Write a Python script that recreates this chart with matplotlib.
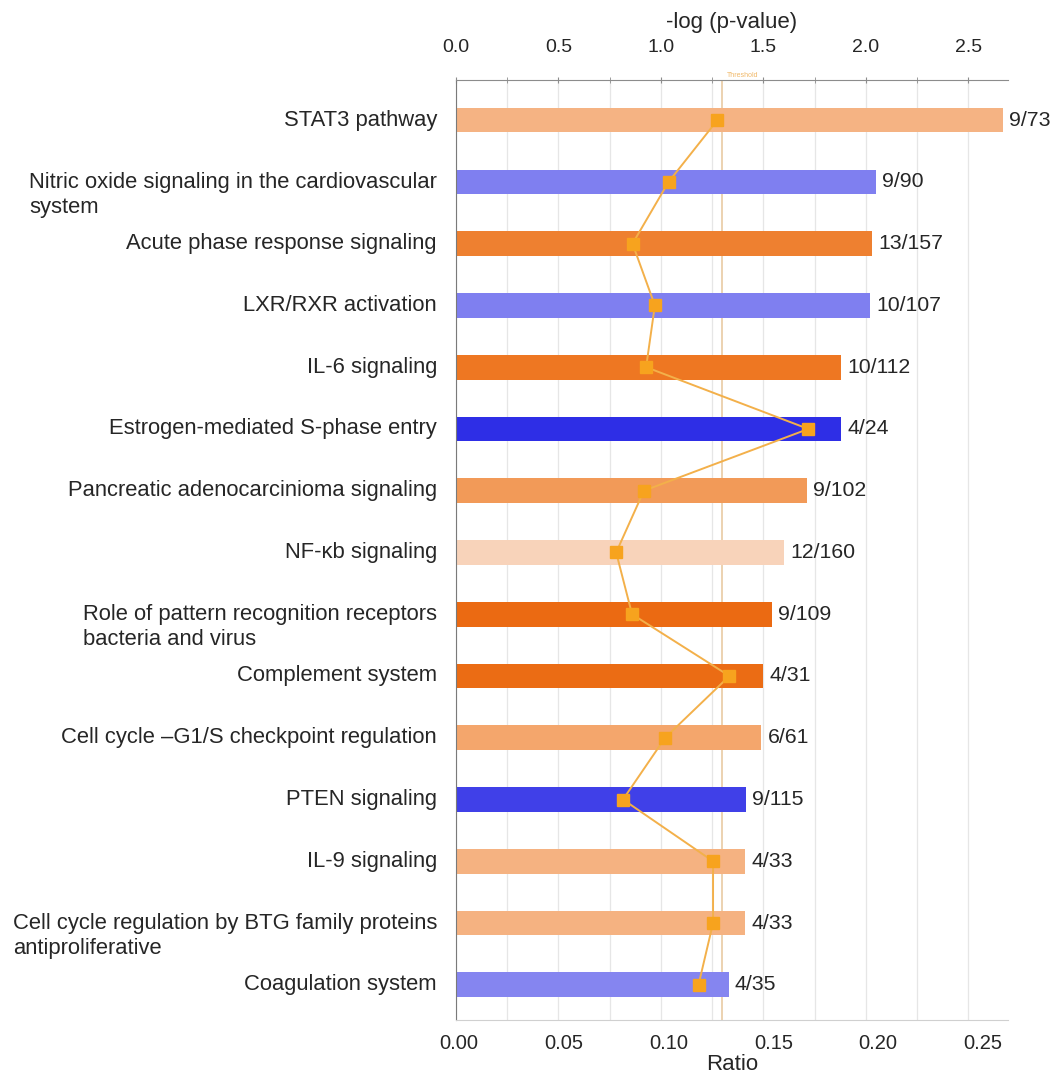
import matplotlib
matplotlib.use("Agg")
import matplotlib.pyplot as plt
import numpy as np
from matplotlib.ticker import MultipleLocator

plt.rcParams['font.family'] = ['Liberation Sans', 'DejaVu Sans']

pathways = [
    "STAT3 pathway",
    "Nitric oxide signaling in the cardiovascular\nsystem",
    "Acute phase response signaling",
    "LXR/RXR activation",
    "IL-6 signaling",
    "Estrogen-mediated S-phase entry",
    "Pancreatic adenocarcinioma signaling",
    "NF-\u03bab signaling",
    "Role of pattern recognition receptors\nbacteria and virus",
    "Complement system",
    "Cell cycle \u2013G1/S checkpoint regulation",
    "PTEN signaling",
    "IL-9 signaling",
    "Cell cycle regulation by BTG family proteins\nantiproliferative",
    "Coagulation system",
]
neglog_p = [2.67, 2.05, 2.03, 2.02, 1.88, 1.88, 1.71, 1.60,
            1.54, 1.50, 1.49, 1.415, 1.41, 1.41, 1.33]
hits = [9, 9, 13, 10, 10, 4, 9, 12, 9, 4, 6, 9, 4, 4, 4]
totals = [73, 90, 157, 107, 112, 24, 102, 160, 109, 31, 61, 115, 33, 33, 35]
bar_colors = ['#F5B383', '#7F7FF0', '#EE8030', '#7F7FF0', '#EE7722',
              '#2E2EE6', '#F29A58', '#F8D3BA', '#EB6A12', '#EB6C14',
              '#F4A66C', '#4040E8', '#F5B281', '#F5B281', '#8585F0']

threshold = 1.3
ratios = np.array(hits) / np.array(totals)
ypos = np.arange(len(pathways))
text_color = '#262626'

fig = plt.figure(figsize=(10.54, 10.78), dpi=100)
ax = fig.add_axes([456 / 1054, 58 / 1078, 552 / 1054, 940 / 1078])
ax2 = ax.twiny()

# bars: -log(p-value) on the top axis
ax.barh(ypos, neglog_p, height=0.4, color=bar_colors, zorder=2)
ax.set_xlim(0, 2.693)
ax.set_ylim(14.57, -0.65)

ax.xaxis.tick_top()
ax.xaxis.set_label_position('top')
ax.xaxis.set_minor_locator(MultipleLocator(0.25))
ax.set_xticks(np.arange(0, 2.51, 0.5))
ax.set_xticklabels([f"{v:.1f}" for v in np.arange(0, 2.51, 0.5)])
ax.tick_params(axis='x', which='both', direction='inout', length=5,
               color='#8c8c8c', labelsize=14, labelcolor=text_color, pad=15)
ax.set_xlabel('-log (p-value)', fontsize=16, color=text_color, labelpad=8)
ax.tick_params(axis='y', left=False, labelleft=False)
ax.grid(axis='x', which='both', color='#e6e6e6', lw=0.9, zorder=0)
ax.set_axisbelow(True)

ax.axvline(threshold, color='#E9CBA3', lw=1.2, zorder=1)
ax.text(threshold + 0.02, -0.66, 'Threshold', fontsize=5, color='#F0B868',
        va='bottom', ha='left')

ax.spines['right'].set_visible(False)
ax.spines['left'].set_color('#7a7a7a')
ax.spines['top'].set_color('#8c8c8c')
ax.spines['bottom'].set_color('#d0d0d0')

# pathway names
for yi, name in zip(ypos, pathways):
    dy = -13 if '\n' in name else 0
    ax.annotate(name, xy=(0, yi), xycoords=('axes fraction', 'data'),
                xytext=(-19, dy), textcoords='offset pixels',
                ha='right', va='center', multialignment='left',
                fontsize=15.8, color=text_color, linespacing=1.25)

# hit counts at bar ends
for yi, val, h, t in zip(ypos, neglog_p, hits, totals):
    ax.annotate(f"{h}/{t}", xy=(val, yi), xytext=(6, 0),
                textcoords='offset pixels', ha='left', va='center',
                fontsize=15.3, color=text_color)

# ratio line on the bottom axis
ax2.plot(ratios, ypos, color='#F3B04A', lw=1.4, marker='s', ms=8,
         mfc='#F7A31E', mec='#F7A31E', zorder=3)
ax2.set_ylim(14.57, -0.65)
ax2.set_xlim(-0.0014, 0.2619)
ax2.xaxis.set_ticks_position('bottom')
ax2.xaxis.set_label_position('bottom')
ax2.set_xticks(np.arange(0, 0.251, 0.05))
ax2.set_xticklabels([f"{v:.2f}" for v in np.arange(0, 0.251, 0.05)])
ax2.tick_params(axis='x', length=0, labelsize=14.5, labelcolor=text_color, pad=10)
ax2.set_xlabel('Ratio', fontsize=16, color=text_color, labelpad=1)
for s in ax2.spines.values():
    s.set_visible(False)

fig.savefig('out.png', dpi=100, facecolor='white')
